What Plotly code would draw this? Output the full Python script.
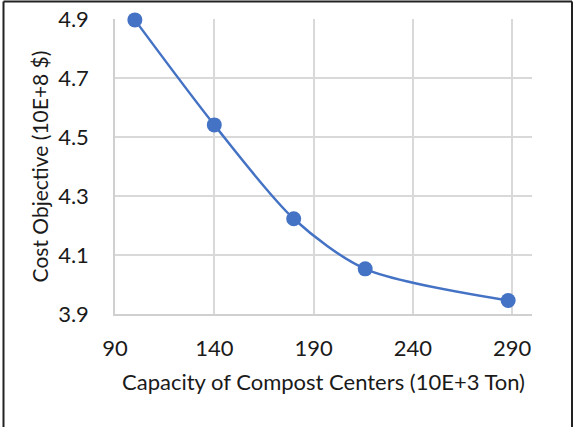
import plotly.graph_objects as go

capacity = [100, 140, 180, 216, 288]
cost = [4.897, 4.541, 4.223, 4.053, 3.946]
x_ticks = [90, 140, 190, 240, 290]
y_ticks = [3.9, 4.1, 4.3, 4.5, 4.7, 4.9]

FONT = "Lato"
fig = go.Figure()
fig.add_trace(go.Scatter(
    x=capacity, y=cost, mode="lines+markers",
    line=dict(color="#4472C4", width=2.5, shape="spline", smoothing=0.8),
    marker=dict(color="#4472C4", size=15),
    cliponaxis=False,
    showlegend=False, hoverinfo="skip",
))

fig.update_layout(
    template="none",
    width=574, height=427,
    margin=dict(l=115, r=42, t=19, b=113, autoexpand=False),
    paper_bgcolor="white", plot_bgcolor="white",
    font=dict(family=FONT, size=22, color="#1a1a1a"),
    xaxis=dict(
        range=[90, 300], tickvals=x_ticks, ticktext=[str(v) for v in x_ticks],
        showgrid=True, gridcolor="#d9d9d9", gridwidth=1.5,
        showline=True, linecolor="#d0d0d0", linewidth=1.5,
        zeroline=False, ticks="", ticklabelstandoff=14, automargin=False,
        title=dict(text="Capacity of Compost Centers (10E+3 Ton)", standoff=14,
                   font=dict(size=22)),
    ),
    yaxis=dict(
        range=[3.9, 4.9], tickvals=y_ticks, ticktext=[f"{v:.1f}" for v in y_ticks],
        showgrid=True, gridcolor="#d9d9d9", gridwidth=1.5,
        showline=True, linecolor="#d0d0d0", linewidth=1.5,
        zeroline=False, ticks="", ticklabelstandoff=20, automargin=False,
        title=dict(text="Cost Objective (10E+8 $)", standoff=4,
                   font=dict(size=21)),
    ),
)

# outer frame (top, left, right)
x_left = -(115 - 3.5) / 417
x_right = (572 - 115) / 417
y_top = (314 - 1.5) / 295
y_bot = -(427 - 314 + 2) / 295
frame = dict(xref="paper", yref="paper", line=dict(color="#222222", width=2))
fig.add_shape(type="line", x0=x_left, x1=x_left, y0=y_bot, y1=y_top, **frame)
fig.add_shape(type="line", x0=x_right, x1=x_right, y0=y_bot, y1=y_top, **frame)
fig.add_shape(type="line", x0=x_left, x1=x_right, y0=y_top, y1=y_top, **frame)

fig.write_html("out.html",
               config={"displayModeBar": False},
               post_script="document.body.style.margin='0';document.body.style.overflow='hidden';")
